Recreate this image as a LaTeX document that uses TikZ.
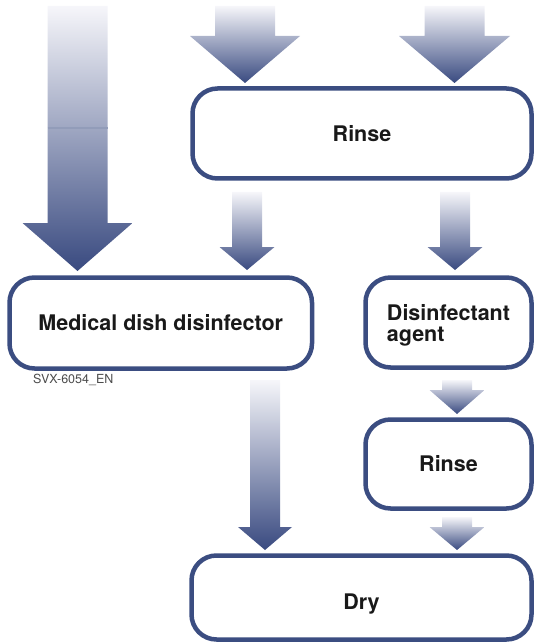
\documentclass[tikz,border=0pt]{standalone}
\usepackage{fontspec}
\setmainfont{TeX Gyre Heros}
\definecolor{boxblue}{RGB}{59,77,129}
\definecolor{arrowdark}{RGB}{57,74,128}
\definecolor{arrowlight}{RGB}{246,246,250}
\begin{document}
\begin{tikzpicture}[
            x=1pt, y=-1pt,
            stepbox/.style={draw=boxblue, line width=4.5pt, rounded corners=25pt, fill=white, inner sep=0pt,
                text=black!90, font=\bfseries\fontsize{21.5}{21}\selectfont},
            flowarrow/.style={top color=arrowlight, bottom color=arrowdark, draw=none},
            codelabel/.style={anchor=west, inner sep=0pt, text=black!70, font=\fontsize{12.5}{13}\selectfont}
        ]
            \useasboundingbox (0,0) rectangle (535,644);

            % block arrows: centre x / top / shaft half width / head half width / head start / tip
            \foreach \cx/\yt/\sw/\hw/\yh/\yp in {77.5/6/30/55/223/271, 245/6/30/55/36/83, 454.5/6/30/55.5/36/83,
                                                 247/192/15/27.5/247/270, 455/192/15/27.5/247/270,
                                                 457/380/15/27.5/390/414, 457/517/15/27.5/527/550,
                                                 265/380/15/27/527/550} {
                \path[flowarrow] (\cx-\sw,\yt) -- (\cx+\sw,\yt) -- (\cx+\sw,\yh) -- (\cx+\hw,\yh)
                    -- (\cx,\yp) -- (\cx-\hw,\yh) -- (\cx-\sw,\yh) -- cycle;
            }
            \draw[arrowdark!55, line width=1.5pt] (47.5,128) -- (107.5,128);

            \node[stepbox, minimum width=339pt, minimum height=90pt] (rinseA) at (362,133.5) {Rinse};
            \node[stepbox, minimum width=302.5pt, minimum height=91pt] (medical) at (160.75,323) {Medical dish disinfector};
            \node[stepbox, minimum width=166pt, minimum height=90pt, align=left, text depth=0pt] (agent) at (448.5,322.5) {Disinfectant\\agent};
            \node[stepbox, minimum width=166pt, minimum height=89pt] (rinseB) at (448.5,464) {Rinse};
            \node[stepbox, minimum width=340pt, minimum height=84pt] (dry) at (361.5,597.5) {\raisebox{-11.5pt}[0pt][0pt]{Dry}};

            \node[codelabel] (svx) at (33,380) {SVX-6054\_EN};

        \end{tikzpicture}
\end{document}
